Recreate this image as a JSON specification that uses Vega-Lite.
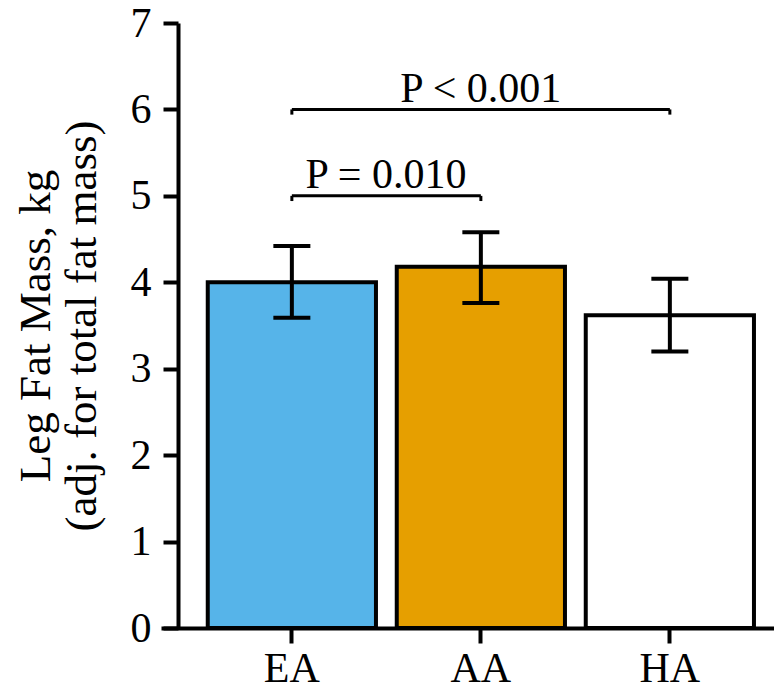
{
  "$schema": "https://vega.github.io/schema/vega-lite/v6.json",
  "autosize": "none",
  "width": 613,
  "height": 605,
  "padding": {"left": 161, "top": 23, "right": 0, "bottom": 64},
  "background": "white",
  "config": {"view": {"stroke": null}, "font": "Liberation Serif"},
  "datasets": {
    "groups": [
      {"group": "EA", "mean": 4.0, "lower": 3.59, "upper": 4.42},
      {"group": "AA", "mean": 4.18, "lower": 3.76, "upper": 4.58},
      {"group": "HA", "mean": 3.62, "lower": 3.2, "upper": 4.04}
    ],
    "brackets": [
      {"from": "EA", "to": "AA", "y": 5.0, "hook": 4.94},
      {"from": "EA", "to": "HA", "y": 6.0, "hook": 5.94}
    ],
    "labels": [
      {"at": "EA", "ty": 5.09, "label": "P = 0.010"},
      {"at": "AA", "ty": 6.086, "label": "P < 0.001"}
    ]
  },
  "layer": [
    {
      "data": {"name": "groups"},
      "mark": {"type": "bar", "stroke": "black", "strokeWidth": 4},
      "encoding": {
        "x": {
          "field": "group", "type": "nominal", "sort": ["EA", "AA", "HA"], "title": null,
          "scale": {"domain": ["EA", "AA", "HA"], "paddingInner": 0.11, "paddingOuter": 0.1767, "align": 0.7},
          "axis": {
            "title": null, "labelFont": "Liberation Serif", "labelFontSize": 42, "labelColor": "black",
            "labelPadding": 5, "labelAngle": 0, "tickSize": 15, "tickWidth": 4, "tickColor": "black",
            "domainColor": "black", "domainWidth": 4
          }
        },
        "y": {
          "field": "mean", "type": "quantitative",
          "title": ["Leg Fat Mass, kg", "(adj. for total fat mass)"],
          "scale": {"domain": [0, 7], "nice": false, "zero": true},
          "axis": {
            "titleFont": "Liberation Serif", "titleFontSize": 45, "titleFontWeight": "normal", "titleColor": "black",
            "titleLineHeight": 46, "titlePadding": 26,
            "values": [0, 1, 2, 3, 4, 5, 6, 7], "format": "d",
            "labelFont": "Liberation Serif", "labelFontSize": 42, "labelColor": "black", "labelPadding": 12,
            "tickSize": 15, "tickWidth": 4, "tickColor": "black",
            "domainColor": "black", "domainWidth": 4, "grid": false, "offset": -17
          }
        },
        "fill": {
          "field": "group", "type": "nominal",
          "scale": {"domain": ["EA", "AA", "HA"], "range": ["#56B4E9", "#E69F00", "#FFFFFF"]},
          "legend": null
        }
      }
    },
    {
      "data": {"name": "groups"},
      "mark": {"type": "rule", "color": "black", "strokeWidth": 4},
      "encoding": {
        "x": {"field": "group", "type": "nominal", "title": null, "scale": {"domain": ["EA", "AA", "HA"]}},
        "y": {"field": "lower", "type": "quantitative", "title": ["Leg Fat Mass, kg", "(adj. for total fat mass)"]},
        "y2": {"field": "upper"}
      }
    },
    {
      "data": {"name": "groups"},
      "mark": {"type": "tick", "color": "black", "size": 37, "thickness": 4, "opacity": 1},
      "encoding": {
        "x": {"field": "group", "type": "nominal", "title": null, "scale": {"domain": ["EA", "AA", "HA"]}},
        "y": {"field": "upper", "type": "quantitative", "title": ["Leg Fat Mass, kg", "(adj. for total fat mass)"]}
      }
    },
    {
      "data": {"name": "groups"},
      "mark": {"type": "tick", "color": "black", "size": 37, "thickness": 4, "opacity": 1},
      "encoding": {
        "x": {"field": "group", "type": "nominal", "title": null, "scale": {"domain": ["EA", "AA", "HA"]}},
        "y": {"field": "lower", "type": "quantitative", "title": ["Leg Fat Mass, kg", "(adj. for total fat mass)"]}
      }
    },
    {
      "data": {"name": "brackets"},
      "mark": {"type": "rule", "color": "black", "strokeWidth": 3},
      "encoding": {
        "x": {"field": "from", "type": "nominal", "bandPosition": 0.5, "title": null, "scale": {"domain": ["EA", "AA", "HA"]}},
        "x2": {"field": "to", "bandPosition": 0.5},
        "y": {"field": "y", "type": "quantitative", "title": ["Leg Fat Mass, kg", "(adj. for total fat mass)"]}
      }
    },
    {
      "data": {"name": "brackets"},
      "mark": {"type": "rule", "color": "black", "strokeWidth": 3},
      "encoding": {
        "x": {"field": "from", "type": "nominal", "bandPosition": 0.5, "title": null, "scale": {"domain": ["EA", "AA", "HA"]}},
        "y": {"field": "y", "type": "quantitative", "title": ["Leg Fat Mass, kg", "(adj. for total fat mass)"]},
        "y2": {"field": "hook"}
      }
    },
    {
      "data": {"name": "brackets"},
      "mark": {"type": "rule", "color": "black", "strokeWidth": 3},
      "encoding": {
        "x": {"field": "to", "type": "nominal", "bandPosition": 0.5, "title": null, "scale": {"domain": ["EA", "AA", "HA"]}},
        "y": {"field": "y", "type": "quantitative", "title": ["Leg Fat Mass, kg", "(adj. for total fat mass)"]},
        "y2": {"field": "hook"}
      }
    },
    {
      "data": {"name": "labels"},
      "transform": [{"filter": "datum.at === 'EA'"}],
      "mark": {"type": "text", "font": "Liberation Serif", "fontSize": 42, "color": "black", "align": "center", "baseline": "alphabetic"},
      "encoding": {
        "x": {"field": "at", "type": "nominal", "bandPosition": 1.06, "title": null, "scale": {"domain": ["EA", "AA", "HA"]}},
        "y": {"field": "ty", "type": "quantitative", "title": ["Leg Fat Mass, kg", "(adj. for total fat mass)"]},
        "text": {"field": "label"}
      }
    },
    {
      "data": {"name": "labels"},
      "transform": [{"filter": "datum.at === 'AA'"}],
      "mark": {"type": "text", "font": "Liberation Serif", "fontSize": 42, "color": "black", "align": "center", "baseline": "alphabetic"},
      "encoding": {
        "x": {"field": "at", "type": "nominal", "bandPosition": 0.5, "title": null, "scale": {"domain": ["EA", "AA", "HA"]}},
        "y": {"field": "ty", "type": "quantitative", "title": ["Leg Fat Mass, kg", "(adj. for total fat mass)"]},
        "text": {"field": "label"}
      }
    }
  ]
}
